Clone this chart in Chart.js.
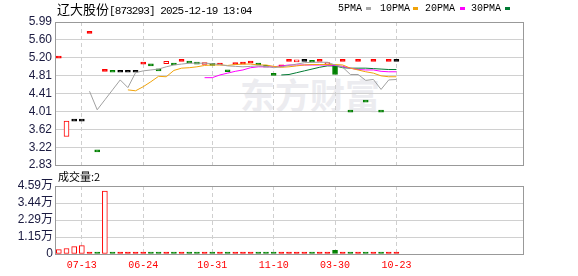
<!DOCTYPE html>
<html lang="zh-CN">
<head>
<meta charset="UTF-8">
<title>辽大股份 日K</title>
<script src="https://cdn.jsdelivr.net/npm/chart.js"></script>
<style>
  body { margin: 0; background: #fff; }
  #wrap { position: relative; width: 578px; height: 276px; overflow: hidden; font-family: "Noto Sans CJK SC", sans-serif; }
  .abs { position: absolute; white-space: nowrap; }
  #title { left: 57px; top: 1px; font-size: 13px; line-height: 15px; color: #000; }
  #title .num { font-family: "Liberation Mono", monospace; font-size: 11px; letter-spacing: -0.9px; }
  .lg { top: 2px; font-family: "Liberation Mono", monospace; font-size: 10px; line-height: 14px; color: #000; }
  .sw { top: 7px; width: 5px; height: 3px; }
  #volTitle { left: 58px; top: 169px; font-size: 11px; line-height: 14px; color: #000; }
  #watermark { left: 240px; top: 74px; font-size: 35px; line-height: 40px; font-weight: bold; color: #ececf0; }
  canvas { position: absolute; left: 0; }
</style>
</head>
<body>
<div id="wrap">
  <div id="watermark" class="abs">东方财富</div>
  <canvas id="priceChart" width="578" height="180" style="top:0"></canvas>
  <canvas id="volChart" width="578" height="100" style="top:176px"></canvas>
  <div id="title" class="abs"><span>辽大股份</span><span class="num">[873293] 2025-12-19 13:04</span></div>
  <div class="abs lg" style="left:338px">5PMA</div>
  <div class="abs sw" style="left:366px;background:#a8a8a8"></div>
  <div class="abs lg" style="left:380px">10PMA</div>
  <div class="abs sw" style="left:413px;background:#f0a30a"></div>
  <div class="abs lg" style="left:425px">20PMA</div>
  <div class="abs sw" style="left:460px;background:#ff00ff"></div>
  <div class="abs lg" style="left:471px">30PMA</div>
  <div class="abs sw" style="left:505px;background:#007a33"></div>
  <div id="volTitle" class="abs">成交量:2</div>
</div>
<script>
  // 61 slots on the x axis, 45 trading days drawn
  const slotCount = 61;
  const axisDates = ['07-13', '06-24', '10-31', '11-10', '03-30', '10-23'];
  const axisDateSlots = [3, 11, 20, 28, 36, 44];

  const priceTicks = [2.83, 3.22, 3.62, 4.01, 4.41, 4.81, 5.20, 5.60, 5.99];
  const volTicks = [0, 11475, 22950, 34425, 45900];
  const volTickLabels = ['0', '1.15万', '2.29万', '3.44万', '4.59万'];

  const opens = [5.19, 3.46, 3.80, 3.80, 5.74, 3.12, 4.90, 4.88, 4.88, 4.88,
                 4.88, 5.06, 5.02, 4.91, 5.07, 5.04, 5.12, 5.08, 5.06, 5.05,
                 5.03, 5.04, 4.89, 5.05, 5.06, 5.08, 5.04, 4.99, 4.81, 5.00,
                 5.12, 5.11, 5.12, 5.10, 5.12, 5.05, 5.03, 5.12, 4.00, 5.12,
                 4.22, 5.12, 4.00, 5.12, 5.12];
  const closes = [5.19, 3.80, 3.80, 3.80, 5.74, 3.12, 4.90, 4.88, 4.88, 4.88,
                  4.88, 5.06, 5.02, 4.91, 5.12, 5.04, 5.12, 5.08, 5.06, 5.06,
                  5.03, 5.04, 4.89, 5.05, 5.06, 5.08, 5.04, 4.99, 4.81, 5.00,
                  5.12, 5.12, 5.12, 5.10, 5.12, 5.06, 4.83, 5.12, 4.00, 5.12,
                  4.22, 5.12, 4.00, 5.12, 5.12];
  const volumes = [3000, 3700, 5000, 5700, 100, 100, 42400, 100, 100, 100,
                   100, 100, 100, 100, 100, 100, 100, 100, 100, 100,
                   100, 100, 100, 100, 100, 100, 100, 100, 100, 100,
                   100, 100, 100, 100, 100, 100, 2400, 100, 100, 100,
                   100, 100, 100, 100, 2];

  const ma5 = [null, null, null, null, 4.46, 4.05, 4.27, 4.49, 4.71, 4.54,
               4.87, 4.91, 4.93, 4.95, 5.00, 5.04, 5.06, 5.08, 5.08, 5.08,
               5.07, 5.05, 5.02, 5.01, 5.00, 5.01, 5.02, 5.01, 4.98, 5.00,
               5.03, 5.06, 5.09, 5.10, 5.10, 5.10, 5.04, 4.99, 4.83, 4.83,
               4.70, 4.72, 4.50, 4.71, 4.72];
  const ma10 = [null, null, null, null, null, null, null, null, null, 4.49,
                4.47, 4.56, 4.67, 4.79, 4.78, 4.92, 4.97, 4.98, 5.00, 5.03,
                5.04, 5.04, 5.03, 5.05, 5.06, 5.06, 5.04, 5.04, 5.01, 4.99,
                5.00, 5.02, 5.04, 5.05, 5.05, 5.05, 5.05, 5.04, 4.97, 4.93,
                4.89, 4.86, 4.80, 4.78, 4.78];
  const ma20 = [null, null, null, null, null, null, null, null, null, null,
                null, null, null, null, null, null, null, null, null, 4.76,
                4.76, 4.82, 4.86, 4.90, 4.93, 4.98, 5.00, 5.00, 5.00, 5.02,
                5.04, 5.04, 5.04, 5.04, 5.04, 5.04, 5.03, 5.01, 4.97, 4.94,
                4.93, 4.93, 4.90, 4.89, 4.89];
  const ma30 = [null, null, null, null, null, null, null, null, null, null,
                null, null, null, null, null, null, null, null, null, null,
                null, null, null, null, null, null, null, null, null, 4.82,
                4.83, 4.87, 4.91, 4.95, 4.99, 5.02, 5.02, 4.98, 4.97, 4.97,
                4.97, 4.96, 4.95, 4.94, 4.94];

  const RED = '#ff0000', GREEN = '#008000', BLACK = '#000000';

  const slotLabels = [];
  for (let i = 0; i < slotCount; i++) slotLabels.push('');
  axisDateSlots.forEach((s, k) => { slotLabels[s] = axisDates[k]; });

  // colour of each day: up red, down green, unchanged black
  const candleColor = closes.map((c, i) => {
    if (c > opens[i]) return RED;
    if (c < opens[i]) return GREEN;
    if (i === 0) return RED;
    if (c > closes[i - 1]) return RED;
    if (c < closes[i - 1]) return GREEN;
    return BLACK;
  });
  const candleFill = closes.map((c, i) => c > opens[i] ? '#fff' : candleColor[i]);
  const bodies = opens.map((o, i) => [Math.min(o, closes[i]), Math.max(o, closes[i])]);
  const volColor = candleColor.map(c => c === GREEN ? GREEN : RED);
  const volFill = volColor.map((c, i) => c === GREEN ? GREEN : (volumes[i] > 1000 ? '#fff' : RED));

  const gridX = ctx => slotLabels[ctx.index] ? '#cfcfcf' : 'rgba(0,0,0,0)';

  const frame = {
    id: 'frame',
    afterDraw(chart) {
      const { ctx, chartArea: a } = chart;
      ctx.save();
      ctx.strokeStyle = '#999';
      ctx.lineWidth = 1;
      ctx.strokeRect(Math.round(a.left) + 0.5, Math.round(a.top) + 0.5, Math.round(a.width), Math.round(a.height));
      ctx.restore();
    }
  };

  const labelFont = { family: "'Liberation Sans', 'Noto Sans CJK SC', sans-serif", size: 12 };

  const lineSet = (label, data, color) => ({
    type: 'line', label, data, borderColor: color, borderWidth: 1,
    pointRadius: 0, tension: 0, order: 1
  });

  new Chart(document.getElementById('priceChart'), {
    data: {
      labels: slotLabels,
      datasets: [
        lineSet('5PMA', ma5, '#a0a0a0'),
        lineSet('10PMA', ma10, '#f0a30a'),
        lineSet('20PMA', ma20, '#ff00ff'),
        lineSet('30PMA', ma30, '#007a33'),
        {
          type: 'bar', label: 'K', data: bodies,
          backgroundColor: candleFill, borderColor: candleColor,
          borderWidth: 1, borderSkipped: false, barThickness: 5, minBarLength: 2, order: 10
        }
      ]
    },
    options: {
      responsive: false,
      animation: false,
      layout: { padding: { top: 22, right: 55, bottom: 15, left: 0 } },
      plugins: { legend: { display: false }, tooltip: { enabled: false } },
      scales: {
        x: {
          offset: true,
          grid: { offset: false, color: gridX, drawTicks: false },
          border: { display: false, dash: [4, 3] },
          ticks: { display: false, autoSkip: false },
          afterFit: s => { s.height = 0; }
        },
        y: {
          min: 2.83, max: 5.99,
          afterBuildTicks: s => { s.ticks = priceTicks.map(v => ({ value: v })); },
          afterFit: s => { s.width = 55; },
          grid: { color: '#d0d0d0', drawTicks: false },
          border: { display: false },
          ticks: { autoSkip: false, padding: 3, color: '#1a1a40', font: labelFont, callback: v => v.toFixed(2) }
        }
      }
    },
    plugins: [frame]
  });

  new Chart(document.getElementById('volChart'), {
    type: 'bar',
    data: {
      labels: slotLabels,
      datasets: [{
        label: '成交量', data: volumes,
        backgroundColor: volFill, borderColor: volColor,
        borderWidth: 1, borderSkipped: false, barThickness: 5, minBarLength: 2
      }]
    },
    options: {
      responsive: false,
      animation: false,
      layout: { padding: { top: 10, right: 55, bottom: 0, left: 0 } },
      plugins: { legend: { display: false }, tooltip: { enabled: false } },
      scales: {
        x: {
          offset: true,
          grid: { offset: false, color: gridX, drawTicks: false },
          border: { display: false, dash: [4, 3] },
          ticks: {
            autoSkip: false, maxRotation: 0, padding: 5, color: RED,
            font: { family: "'Liberation Mono', monospace", size: 10 }
          },
          afterFit: s => { s.height = 22; }
        },
        y: {
          min: 0, max: 45900,
          afterBuildTicks: s => { s.ticks = volTicks.map(v => ({ value: v })); },
          afterFit: s => { s.width = 55; },
          grid: { color: '#d0d0d0', drawTicks: false },
          border: { display: false },
          ticks: {
            autoSkip: false, padding: 2, color: '#1a1a40', font: labelFont,
            callback: (v, i) => volTickLabels[i]
          }
        }
      }
    },
    plugins: [frame]
  });
</script>
</body>
</html>
